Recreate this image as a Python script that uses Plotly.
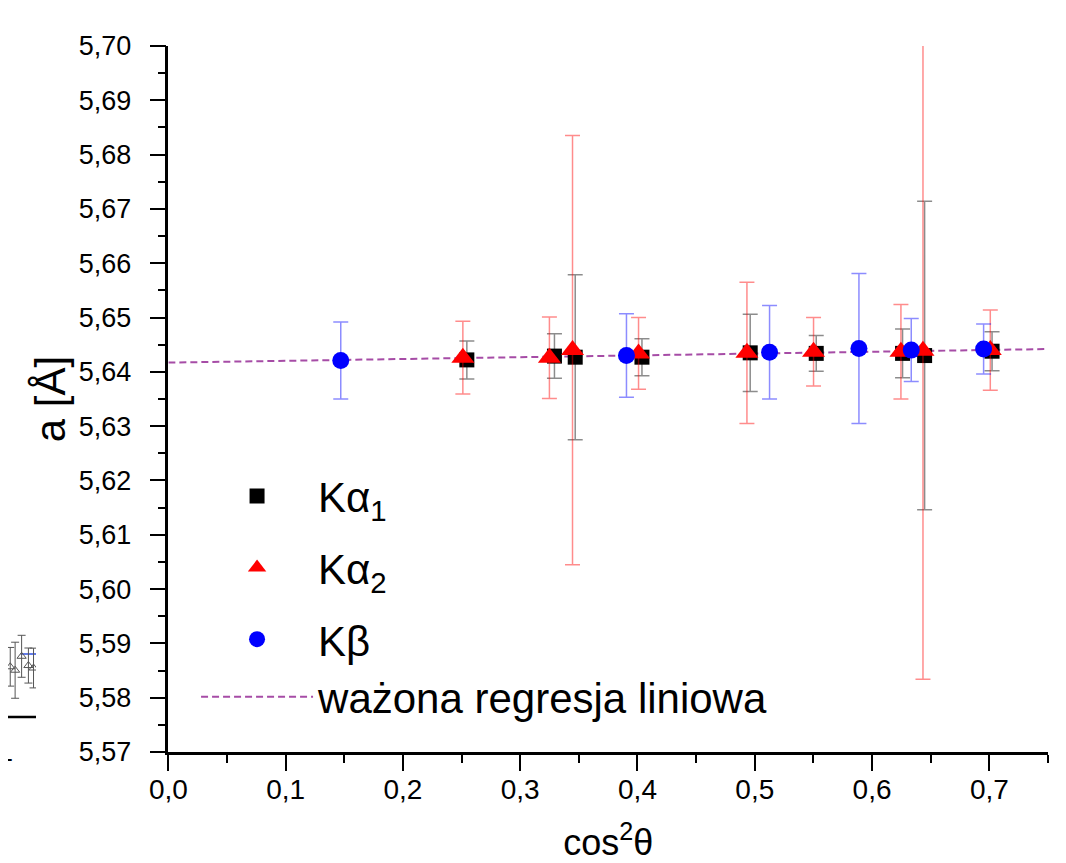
import plotly.graph_objects as go

# ---------------- data ----------------
# K-alpha 1 (black squares)
ka1_x = [0.2545, 0.3292, 0.3469, 0.4038, 0.4961, 0.5524, 0.6260, 0.6448, 0.7023]
ka1_y = [5.6422, 5.6429, 5.6427, 5.6427, 5.6435, 5.6434, 5.6434, 5.6430, 5.6438]
ka1_err = [0.0035, 0.0041, 0.0152, 0.0034, 0.0071, 0.0033, 0.0045, 0.0284, 0.0036]

# K-alpha 2 (red triangles)
ka2_x = [0.2511, 0.3249, 0.3446, 0.4009, 0.4933, 0.5501, 0.6246, 0.6434, 0.7008]
ka2_y = [5.6426, 5.6426, 5.6440, 5.6434, 5.6435, 5.6437, 5.6437, 5.6439, 5.6440]
ka2_err = [0.0067, 0.0075, 0.0395, 0.0066, 0.0130, 0.0063, 0.0087, 0.0605, 0.0074]

# K-beta (blue circles)
kb_x = [0.1470, 0.3906, 0.5126, 0.5888, 0.6334, 0.6951]
kb_y = [5.6421, 5.6430, 5.6436, 5.6443, 5.6440, 5.6442]
kb_err = [0.0071, 0.0077, 0.0086, 0.0138, 0.0058, 0.0046]

# weighted linear regression (end points)
fit_x = [0.0, 0.75]
fit_y = [5.6417, 5.6442]

# fragment of a neighbouring chart visible at the left edge
frag_x = [0.08, 0.254, 0.486, 0.729, 0.911]
frag_y = [0.46, 0.435, 0.536, 0.469, 0.451]
frag_err = [0.14, 0.203, 0.152, 0.127, 0.144]
frag_line_x = [0.45, 1.0]
frag_line_y = [0.553, 0.553]
frag_base_x = [0.0, 1.0]
frag_base_y = [0.096, 0.096]

x_ticks = [0.0, 0.1, 0.2, 0.3, 0.4, 0.5, 0.6, 0.7]

FONT = "Liberation Sans, Arial, sans-serif"

fig = go.Figure()

fig.add_trace(go.Scatter(
    x=fit_x, y=fit_y, mode="lines", name="ważona regresja liniowa",
    line=dict(color="#a64ca6", width=2, dash="7px,4px"),
    legendgroup="g3", legendrank=1004, xaxis="x", yaxis="y"))

fig.add_trace(go.Scatter(
    x=ka1_x, y=ka1_y, mode="markers", name="Kα<sub>1</sub>",
    marker=dict(symbol="square", size=15, color="black"),
    error_y=dict(type="data", array=ka1_err, visible=True,
                 color="rgba(0,0,0,0.45)", thickness=1.5, width=7.5),
    legendgroup="g1", legendrank=1001))

fig.add_trace(go.Scatter(
    x=ka2_x, y=ka2_y, mode="markers", name="Kα<sub>2</sub>",
    marker=dict(symbol="triangle-up", size=20, color="#ff0000"),
    error_y=dict(type="data", array=ka2_err, visible=True,
                 color="rgba(255,0,0,0.45)", thickness=1.5, width=7.5),
    legendgroup="g2", legendrank=1002))

fig.add_trace(go.Scatter(
    x=kb_x, y=kb_y, mode="markers", name="Kβ",
    marker=dict(symbol="circle", size=17, color="#0000ff"),
    error_y=dict(type="data", array=kb_err, visible=True,
                 color="rgba(0,0,255,0.45)", thickness=1.5, width=7.5),
    legendgroup="g3", legendrank=1003))

# fragment traces (neighbouring chart cut off at the left edge)
fig.add_trace(go.Scatter(
    x=frag_line_x, y=frag_line_y, mode="lines", showlegend=False,
    line=dict(color="#3050e0", width=1.5), xaxis="x2", yaxis="y2", hoverinfo="skip"))
fig.add_trace(go.Scatter(
    x=frag_x, y=frag_y, mode="markers", showlegend=False,
    marker=dict(symbol="triangle-up-open", size=8, color="#555"),
    error_y=dict(type="data", array=frag_err, visible=True, color="#555",
                 thickness=1, width=4),
    xaxis="x2", yaxis="y2", hoverinfo="skip"))

# the page has an 8 px body margin: figure coords = page coords - 8
W, H = 1058, 855
L = 160.3     # left end of x axis (figure px)
R = 1039.7    # right end of x axis (figure px)
T = 38
B = 743.7
PH = B - T

fig.update_layout(
    width=W, height=H,
    margin=dict(l=0, r=W - R, t=T, b=H - B),
    paper_bgcolor="white", plot_bgcolor="white",
    separators=", ",
    font=dict(family=FONT, color="black", size=27),
    showlegend=True,
    legend=dict(x=188 / R, y=(B - 454) / PH, xanchor="left", yanchor="top",
                bgcolor="rgba(0,0,0,0)", font=dict(family=FONT, size=42, color="black"),
                itemwidth=112, tracegroupgap=14, traceorder="grouped"),
    xaxis=dict(domain=[L / R, 1], range=[0, 0.75], tickmode="array", tickvals=x_ticks,
               tickformat=".1f", ticks="outside", ticklen=16, tickwidth=2, tickcolor="black",
               minor=dict(ticks="outside", ticklen=8, tickwidth=2, dtick=0.05, tick0=0,
                          tickcolor="black"),
               showline=True, linewidth=2.5, linecolor="black", showgrid=False,
               zeroline=False, mirror=False, anchor="y", automargin=False,
               tickfont=dict(size=28), ticklabelstandoff=-5,
               title=dict(text="cos<sup>2</sup>θ", font=dict(size=36), standoff=31)),
    yaxis=dict(domain=[0, 1], range=[5.57, 5.70], dtick=0.01, tick0=5.57,
               tickformat=".2f", ticks="outside", ticklen=16, tickwidth=2, tickcolor="black",
               minor=dict(ticks="outside", ticklen=8, tickwidth=2, dtick=0.005,
                          tick0=5.57, tickcolor="black"),
               showline=True, linewidth=2.5, linecolor="black", showgrid=False,
               zeroline=False, mirror=False, anchor="x", automargin=False,
               tickfont=dict(size=27), ticklabelstandoff=13,
               title=dict(text="a [Å]", font=dict(size=42), standoff=0)),
    xaxis2=dict(domain=[0, 28 / R], range=[0, 1], anchor="y2", visible=False,
                automargin=False),
    yaxis2=dict(domain=[(B - 722) / PH, (B - 584) / PH], range=[0, 1],
                anchor="x2", visible=False, automargin=False),
    shapes=[dict(type="line", xref="x2", yref="y2",
                 x0=frag_base_x[0], x1=frag_base_x[1],
                 y0=frag_base_y[0], y1=frag_base_y[1],
                 line=dict(color="black", width=2.5))],
    annotations=[dict(text="1", x=0, y=0, xref="paper", yref="paper", xanchor="right",
                      yanchor="middle", xshift=7, showarrow=False,
                      font=dict(family=FONT, size=27, color="black"))],
)

fig.write_html("out.html")
